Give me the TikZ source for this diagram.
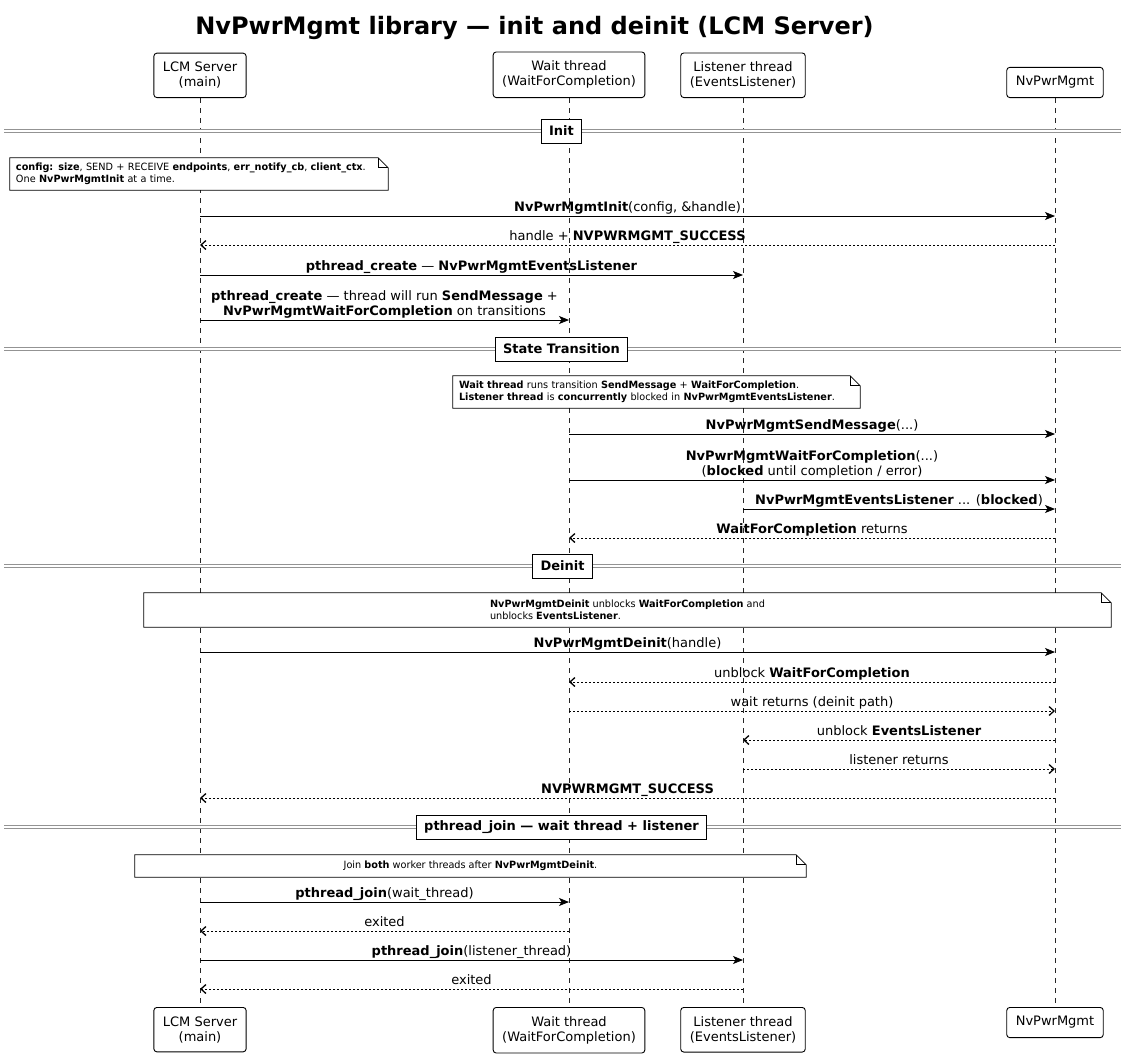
\documentclass[tikz,border=0pt]{standalone}
\usepackage{fontspec}
\setmainfont{DejaVu Sans}
\newfontfamily\notefont[FakeStretch=0.97]{DejaVu Sans}
\usetikzlibrary{arrows.meta,calc}

% note outline with folded corner
\newcommand{\notefold}[1]{%
  \draw[line width=0.8pt] (#1.north west) -- ([xshift=-10pt]#1.north east) -- ([yshift=-10pt]#1.north east) -- (#1.south east) -- (#1.south west) -- cycle;
  \draw[line width=0.8pt] ([xshift=-10pt]#1.north east) -- ([xshift=-10pt,yshift=-10pt]#1.north east) -- ([yshift=-10pt]#1.north east);}

\begin{document}
\begin{tikzpicture}[x=1pt, y=-1pt, >=Stealth,
    every node/.style={font=\fontsize{13}{15}\selectfont},
    part/.style={draw, line width=0.9pt, rounded corners=3pt, fill=white, align=center, inner xsep=9pt, inner ysep=9pt},
    life/.style={line width=0.8pt, dash pattern=on 5pt off 5pt, black!85},
    sep/.style={draw=gray!85, double=white, double distance=1.8pt, line width=0.8pt},
    seplabel/.style={draw, line width=0.9pt, fill=white, font=\fontsize{13}{15}\selectfont\bfseries, inner xsep=8pt, minimum height=24pt},
    note/.style={fill=white, align=left, font=\notefont\fontsize{10}{12}\selectfont, inner sep=0pt},
    msg/.style={line width=0.9pt, -{Stealth[length=10pt, width=8pt, inset=2.5pt]}},
    ret/.style={line width=0.9pt, dash pattern=on 2pt off 2pt, -{Straight Barb[length=5pt, width=9pt, line width=1.3pt]}},
    lbl/.style={anchor=base, yshift=4.5pt, inner sep=0pt},
    lbltwo/.style={anchor=south, align=center, yshift=1.5pt, inner sep=0pt}]
    \useasboundingbox (0,0) rectangle (1125,1058);

    % title
    \node[font=\fontsize{24}{28}\selectfont\bfseries] (TITLE) at (534.5,28) {NvPwrMgmt library — init and deinit (LCM Server)};

    % participants
    \node[part, anchor=south] (LCM) at (200,98) {LCM Server\\(main)};
    \node[part, anchor=south] (WAIT) at (569,98) {Wait thread\\(WaitForCompletion)};
    \node[part, anchor=south] (LSN) at (743,98) {Listener thread\\(EventsListener)};
    \node[part, anchor=south] (PWR) at (1055,98) {NvPwrMgmt};
    \node[part, anchor=north] (LCMb) at (200,1007) {LCM Server\\(main)};
    \node[part, anchor=north] (WAITb) at (569,1007) {Wait thread\\(WaitForCompletion)};
    \node[part, anchor=north] (LSNb) at (743,1007) {Listener thread\\(EventsListener)};
    \node[part, anchor=north] (PWRb) at (1055,1007) {NvPwrMgmt};

    % lifelines
    \draw[life] (LCM) -- (LCMb);
    \draw[life] (WAIT) -- (WAITb);
    \draw[life] (LSN) -- (LSNb);
    \draw[life] (PWR) -- (PWRb);

    % message rows
    \foreach \n/\y in {1/216, 2/245, 3/275, 4/320, 5/434, 6/480, 7/509, 8/538, 9/652,
        10/682, 11/711, 12/740, 13/769, 14/798, 15/902, 16/931, 17/960, 18/989}
        \coordinate (m\n) at (0,\y);

    % dividers
    \draw[sep] (4,131) -- (1121,131);
    \node[seplabel] (INIT) at (561.5,131) {Init};
    \draw[sep] (4,349) -- (1121,349);
    \node[seplabel] (TRANS) at (561.5,349) {State Transition};
    \draw[sep] (4,566) -- (1121,566);
    \node[seplabel] (DEINIT) at (562.5,566) {Deinit};
    \draw[sep] (4,827) -- (1121,827);
    \node[seplabel] (JOIN) at (561.5,827) {pthread\_join — wait thread + listener};

    % notes
    \node[note, inner xsep=6pt, text width=366pt, minimum height=32pt] (N1) at (199,174) {\textbf{config: size}, SEND + RECEIVE \textbf{endpoints}, \textbf{err\_notify\_cb}, \textbf{client\_ctx}.\\One \textbf{NvPwrMgmtInit} at a time.};
    \notefold{N1}
    \node[note, inner xsep=6pt, text width=395pt, minimum height=32pt] (N2) at (656.5,392) {\textbf{Wait thread} runs transition \textbf{SendMessage} + \textbf{WaitForCompletion}.\\\textbf{Listener thread} is \textbf{concurrently} blocked in \textbf{NvPwrMgmtEventsListener}.};
    \notefold{N2}
    \node[note, minimum width=967pt, minimum height=34pt] (N3) at (627.5,610) {\textbf{NvPwrMgmtDeinit} unblocks \textbf{WaitForCompletion} and\\unblocks \textbf{EventsListener}.};
    \notefold{N3}
    \node[note, minimum width=671pt, minimum height=22pt] (N4) at (470.5,866) {Join \textbf{both} worker threads after \textbf{NvPwrMgmtDeinit}.};
    \notefold{N4}

    % init
    \draw[msg] (LCM |- m1) -- node[lbl] {\textbf{NvPwrMgmtInit}(config, \&handle)} (PWR |- m1);
    \draw[ret] (PWR |- m2) -- node[lbl] {handle + \textbf{NVPWRMGMT\_SUCCESS}} (LCM |- m2);
    \draw[msg] (LCM |- m3) -- node[lbl] {\textbf{pthread\_create} — \textbf{NvPwrMgmtEventsListener}} (LSN |- m3);
    \draw[msg] (LCM |- m4) -- node[lbltwo] {\textbf{pthread\_create} — thread will run \textbf{SendMessage} +\\\textbf{NvPwrMgmtWaitForCompletion} on transitions} (WAIT |- m4);

    % state transition
    \draw[msg] (WAIT |- m5) -- node[lbl] {\textbf{NvPwrMgmtSendMessage}(...)} (PWR |- m5);
    \draw[msg] (WAIT |- m6) -- node[lbltwo] {\textbf{NvPwrMgmtWaitForCompletion}(...)\\(\textbf{blocked} until completion / error)} (PWR |- m6);
    \draw[msg] (LSN |- m7) -- node[lbl] {\textbf{NvPwrMgmtEventsListener} ... (\textbf{blocked})} (PWR |- m7);
    \draw[ret] (PWR |- m8) -- node[lbl] {\textbf{WaitForCompletion} returns} (WAIT |- m8);

    % deinit
    \draw[msg] (LCM |- m9) -- node[lbl] {\textbf{NvPwrMgmtDeinit}(handle)} (PWR |- m9);
    \draw[ret] (PWR |- m10) -- node[lbl] {unblock \textbf{WaitForCompletion}} (WAIT |- m10);
    \draw[ret] (WAIT |- m11) -- node[lbl] {wait returns (deinit path)} (PWR |- m11);
    \draw[ret] (PWR |- m12) -- node[lbl] {unblock \textbf{EventsListener}} (LSN |- m12);
    \draw[ret] (LSN |- m13) -- node[lbl] {listener returns} (PWR |- m13);
    \draw[ret] (PWR |- m14) -- node[lbl] {\textbf{NVPWRMGMT\_SUCCESS}} (LCM |- m14);

    % join
    \draw[msg] (LCM |- m15) -- node[lbl] {\textbf{pthread\_join}(wait\_thread)} (WAIT |- m15);
    \draw[ret] (WAIT |- m16) -- node[lbl] {exited} (LCM |- m16);
    \draw[msg] (LCM |- m17) -- node[lbl] {\textbf{pthread\_join}(listener\_thread)} (LSN |- m17);
    \draw[ret] (LSN |- m18) -- node[lbl] {exited} (LCM |- m18);
\end{tikzpicture}
\end{document}
